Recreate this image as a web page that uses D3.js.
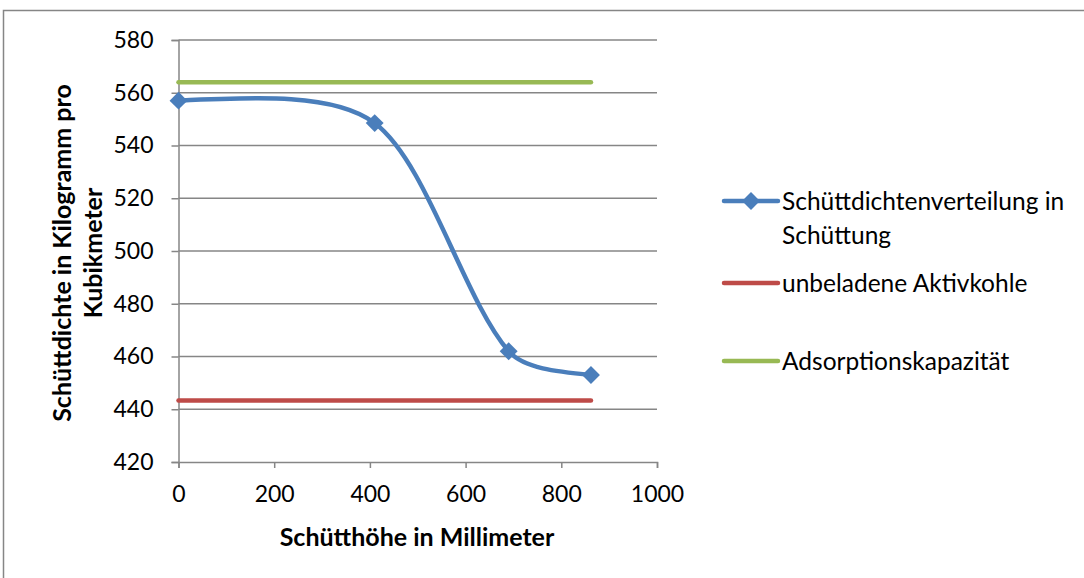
<!DOCTYPE html>
<html>
<head>
<meta charset="utf-8">
<script src="https://cdn.jsdelivr.net/npm/d3@7"></script>
<style>
  html, body { margin: 0; padding: 0; background: #fff; }
  svg { display: block; }
  text { font-family: Lato, "Open Sans", sans-serif; fill: #000; }
</style>
</head>
<body>
<svg id="chart" width="1084" height="578"></svg>
<script>
// Bulk density along the bed height
const heights = [0, 410, 690, 862];
const densities = [557, 548.5, 462, 453];

// Reference levels
const unloadedCarbon = 443.3;     // unbeladene Aktivkohle
const adsorptionCapacity = 564;   // Adsorptionskapazität
const refRange = [0, 862];

const xTicks = [0, 200, 400, 600, 800, 1000];
const yTicks = [420, 440, 460, 480, 500, 520, 540, 560, 580];

const seriesNames = ["Schüttdichtenverteilung in|Schüttung", "unbeladene Aktivkohle", "Adsorptionskapazität"];
const seriesColors = ["#4A7EBB", "#BE4B48", "#98B954"];

const xTitle = "Schütthöhe in Millimeter";
const yTitle = ["Schüttdichte in Kilogramm pro", "Kubikmeter"];

const svg = d3.select("#chart");

// outer chart frame
svg.append("rect")
  .attr("x", 3.5).attr("y", 10.5)
  .attr("width", 1200).attr("height", 700)
  .attr("fill", "none").attr("stroke", "#868686").attr("stroke-width", 1.5);

const x = d3.scaleLinear().domain([0, 1000]).range([178.5, 657]);
const y = d3.scaleLinear().domain([420, 580]).range([462, 40]);

const grid = "#868686";

// horizontal gridlines
svg.append("g").selectAll("line")
  .data(yTicks.filter(d => d !== 420))
  .join("line")
  .attr("x1", x(0)).attr("x2", x(1000))
  .attr("y1", d => y(d)).attr("y2", d => y(d))
  .attr("stroke", grid).attr("stroke-width", 1.3);

// axes
const xAxis = svg.append("g")
  .attr("transform", `translate(0,${y(420)})`)
  .call(d3.axisBottom(x).tickValues(xTicks).tickSize(6).tickPadding(18).tickFormat(d3.format("d")));
const yAxis = svg.append("g")
  .attr("transform", `translate(${x(0)},0)`)
  .call(d3.axisLeft(y).tickValues(yTicks).tickSize(7).tickPadding(18).tickFormat(d3.format("d")));

[xAxis, yAxis].forEach(g => {
  g.select(".domain").attr("stroke", grid).attr("stroke-width", 1.5);
  g.selectAll(".tick line").attr("stroke", grid).attr("stroke-width", 1.5);
  g.selectAll(".tick text")
    .style("font-family", "Lato, sans-serif")
    .style("font-size", "23px")
    .attr("fill", "#000");
});
xAxis.selectAll(".tick text").attr("dy", "0.71em");

// reference lines
const refLine = d3.line().x(d => x(d[0])).y(d => y(d[1]));
svg.append("path")
  .attr("d", refLine(refRange.map(r => [r, unloadedCarbon])))
  .attr("fill", "none").attr("stroke", seriesColors[1])
  .attr("stroke-width", 4.5).attr("stroke-linecap", "round");
svg.append("path")
  .attr("d", refLine(refRange.map(r => [r, adsorptionCapacity])))
  .attr("fill", "none").attr("stroke", seriesColors[2])
  .attr("stroke-width", 4.5).attr("stroke-linecap", "round");

// smoothed Bezier through the points: tangents scaled by neighbouring
// segment lengths, end handles reflected from the adjacent inner handle
function smoothPath(p) {
  const n = p.length;
  const s = 0.28;
  const dist = (a, b) => Math.hypot(b[0] - a[0], b[1] - a[1]);
  const out = new Array(n), inn = new Array(n);
  for (let i = 1; i < n - 1; i++) {
    const d0 = dist(p[i - 1], p[i]), d1 = dist(p[i], p[i + 1]);
    const tx = p[i + 1][0] - p[i - 1][0], ty = p[i + 1][1] - p[i - 1][1];
    inn[i] = [p[i][0] - tx * s * d0 / (d0 + d1), p[i][1] - ty * s * d0 / (d0 + d1)];
    out[i] = [p[i][0] + tx * s * d1 / (d0 + d1), p[i][1] + ty * s * d1 / (d0 + d1)];
  }
  out[0] = [(p[0][0] + inn[1][0]) / 2, (p[0][1] + inn[1][1]) / 2];
  inn[n - 1] = [(p[n - 1][0] + out[n - 2][0]) / 2, (p[n - 1][1] + out[n - 2][1]) / 2];
  const path = d3.path();
  path.moveTo(p[0][0], p[0][1]);
  for (let i = 0; i < n - 1; i++) {
    path.bezierCurveTo(out[i][0], out[i][1], inn[i + 1][0], inn[i + 1][1], p[i + 1][0], p[i + 1][1]);
  }
  return path.toString();
}

// smoothed density curve
const pts = heights.map((h, i) => [h, densities[i]]);
const screenPts = pts.map(d => [x(d[0]), y(d[1])]);
svg.append("path")
  .attr("d", smoothPath(screenPts))
  .attr("fill", "none").attr("stroke", seriesColors[0])
  .attr("stroke-width", 4.5).attr("stroke-linecap", "round");

// diamond markers
const diamond = d3.symbol().type(d3.symbolSquare).size(160);
svg.append("g").selectAll("path")
  .data(pts)
  .join("path")
  .attr("d", diamond)
  .attr("transform", d => `translate(${x(d[0])},${y(d[1])}) rotate(45)`)
  .attr("fill", seriesColors[0]);

// axis titles
svg.append("text")
  .attr("x", 417).attr("y", 546)
  .attr("text-anchor", "middle")
  .style("font-size", "25px").style("font-weight", "bold")
  .text(xTitle);

const yt = svg.append("text")
  .attr("transform", "translate(62,253) rotate(-90)")
  .attr("text-anchor", "middle")
  .style("font-size", "25px").style("font-weight", "bold");
yTitle.forEach((t, i) => {
  yt.append("tspan").attr("x", 0).attr("y", i * 31).attr("dy", "0.35em").text(t);
});

// legend
const legendY = [201, 283, 361];
const lg = svg.append("g");
seriesNames.forEach((name, i) => {
  const g = lg.append("g").attr("transform", `translate(0,${legendY[i]})`);
  g.append("line")
    .attr("x1", 724).attr("x2", 778).attr("y1", 0).attr("y2", 0)
    .attr("stroke", seriesColors[i]).attr("stroke-width", 4.5).attr("stroke-linecap", "round");
  if (i === 0) {
    g.append("path").attr("d", diamond).attr("transform", "translate(751,0) rotate(45)").attr("fill", seriesColors[0]);
  }
  const t = g.append("text").attr("x", 782).style("font-size", "24.5px");
  name.split("|").forEach((part, j) => {
    t.append("tspan").attr("x", 782).attr("y", j * 34).attr("dy", "0.35em").text(part);
  });
});
</script>
</body>
</html>
